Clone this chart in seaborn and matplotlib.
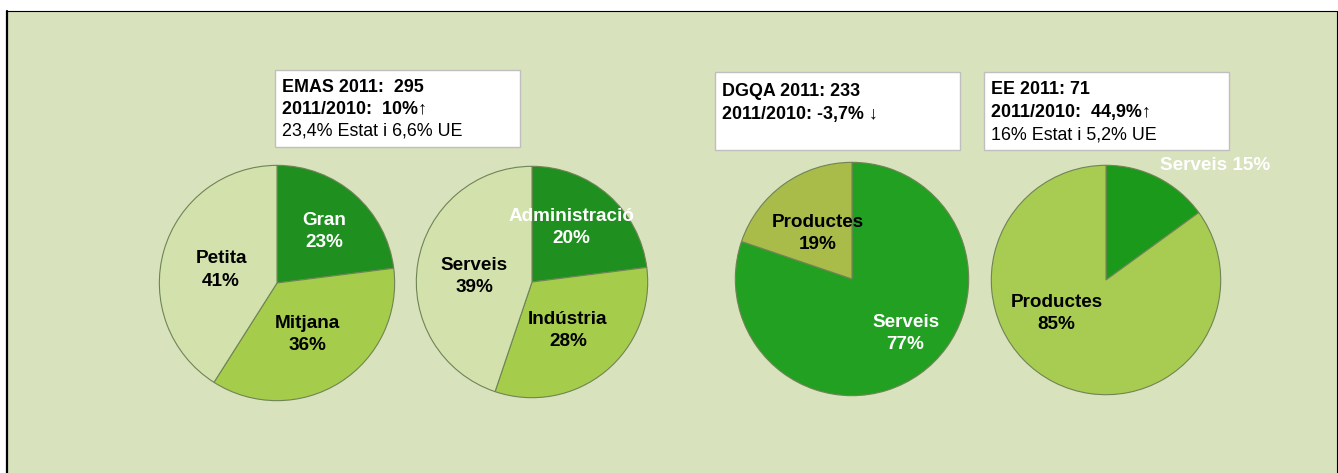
import matplotlib
matplotlib.use("Agg")
import matplotlib.pyplot as plt
from matplotlib.patches import Rectangle
import seaborn as sns

# Data
emas_size_labels = ["Gran", "Mitjana", "Petita"]
emas_size_values = [23, 36, 41]
emas_sector_labels = ["Administració", "Indústria", "Serveis"]
emas_sector_values = [20, 28, 39]
dgqa_labels = ["Serveis", "Productes"]
dgqa_values = [77, 19]
ee_labels = ["Serveis", "Productes"]
ee_values = [15, 85]

emas_box = ["EMAS 2011:  295", "2011/2010:  10%\u2191", "23,4% Estat i 6,6% UE"]
dgqa_box = ["DGQA 2011: 233", "2011/2010: -3,7% \u2193"]
ee_box = ["EE 2011: 71", "2011/2010:  44,9%\u2191", "16% Estat i 5,2% UE"]

sns.set_style("white")
plt.rcParams["font.family"] = ["Liberation Sans", "DejaVu Sans"]

W, H = 1338, 473
fig = plt.figure(figsize=(W / 100, H / 100), dpi=100, facecolor="white")

# background panel in pixel coordinates
bg = fig.add_axes([0, 0, 1, 1])
bg.set_xlim(0, W)
bg.set_ylim(H, 0)
bg.axis("off")
bg.add_patch(Rectangle((7, 11.5), 1330, 470, facecolor="#d8e2bc", edgecolor="none"))
bg.plot([7, 7], [11, H], color="black", lw=1.6)
bg.plot([7, 1337], [11.5, 11.5], color="black", lw=0.8)
bg.plot([1337, 1337], [11, H], color="black", lw=0.8)


def text_box(x0, y0, w, h, lines, bold, tx, ty, step):
    bg.add_patch(Rectangle((x0, y0), w, h, facecolor="white", edgecolor="#bfbfbf", lw=1.0))
    for i, (line, b) in enumerate(zip(lines, bold)):
        bg.text(tx, ty + i * step, line, fontsize=12.9, fontweight="bold" if b else "normal",
                ha="left", va="center", color="black")


text_box(275, 70, 245, 77, emas_box, [True, True, False], 282, 87, 22)
text_box(715, 72, 245, 78, dgqa_box, [True, True], 722, 92, 22)
text_box(984, 72, 245, 78, ee_box, [True, True, False], 991, 90, 22.5)

dark = "#1f8f1f"
mid = "#a5cc4a"
pale = "#d3e2ac"


def pie(cx, cy, r, values, labels, colors, label_xy, label_col, pct):
    ax = fig.add_axes([(cx - r) / W, (H - cy - r) / H, 2 * r / W, 2 * r / H])
    ax.pie(values, colors=colors, startangle=90, counterclock=False, radius=1,
           wedgeprops=dict(edgecolor="#6f8455", linewidth=0.8))
    ax.set_xlim(-1.02, 1.02)
    ax.set_ylim(-1.02, 1.02)
    ax.set_aspect("equal")
    ax.axis("off")
    for lab, p, (x, y), c in zip(labels, pct, label_xy, label_col):
        ax.text(x, y, p.replace("{}", lab), ha="center", va="center", fontsize=13.6,
                fontweight="bold", color=c, linespacing=1.4, clip_on=False)
    return ax


pie(277, 283, 120, emas_size_values, emas_size_labels, [dark, mid, pale],
    [(0.40, 0.44), (0.26, -0.44), (-0.475, 0.11)], ["white", "black", "black"],
    ["{}\n23%", "{}\n36%", "{}\n41%"])
pie(532, 282, 118, emas_sector_values, emas_sector_labels, [dark, mid, pale],
    [(0.34, 0.47), (0.31, -0.42), (-0.50, 0.05)], ["white", "black", "black"],
    ["{}\n20%", "{}\n28%", "{}\n39%"])
pie(852, 279, 119, dgqa_values, dgqa_labels, ["#22a022", "#a9bc4a"],
    [(0.46, -0.47), (-0.29, 0.39)], ["white", "black"],
    ["{}\n77%", "{}\n19%"])
pie(1106, 280, 117, ee_values, ee_labels, ["#1a991a", "#a8cc52"],
    [(0.95, 1.0), (-0.43, -0.29)], ["white", "black"],
    ["{} 15%", "{}\n85%"])

fig.savefig("out.png", dpi=100, facecolor="white")
